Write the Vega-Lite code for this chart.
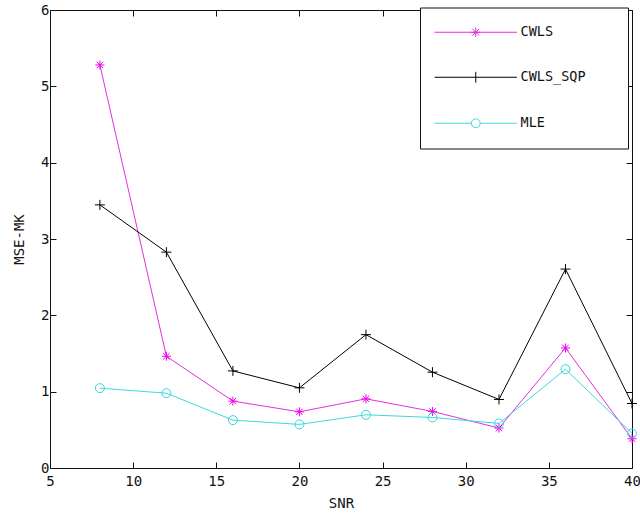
{
  "$schema": "https://vega.github.io/schema/vega-lite/v6.json",
  "width": 582,
  "height": 458,
  "autosize": {"type": "none"},
  "padding": {"left": 50, "top": 10, "right": 8, "bottom": 49},
  "background": "white",
  "config": {
    "view": {"stroke": null},
    "font": "DejaVu Sans Mono",
    "axis": {"grid": false, "domainColor": "#111", "tickColor": "#111", "labelColor": "#111", "titleColor": "#111", "labelFont": "DejaVu Sans Mono", "titleFont": "DejaVu Sans Mono", "labelFontSize": 14, "titleFontSize": 14, "titleFontWeight": "normal", "tickSize": -6, "domainWidth": 1, "tickWidth": 1}
  },
  "data": {"values": [
    {"snr": 8, "series": "CWLS", "mse": 5.28},
    {"snr": 12, "series": "CWLS", "mse": 1.464},
    {"snr": 16, "series": "CWLS", "mse": 0.876},
    {"snr": 20, "series": "CWLS", "mse": 0.736},
    {"snr": 24, "series": "CWLS", "mse": 0.906},
    {"snr": 28, "series": "CWLS", "mse": 0.741},
    {"snr": 32, "series": "CWLS", "mse": 0.523},
    {"snr": 36, "series": "CWLS", "mse": 1.573},
    {"snr": 40, "series": "CWLS", "mse": 0.383},
    {"snr": 8, "series": "CWLS_SQP", "mse": 3.447},
    {"snr": 12, "series": "CWLS_SQP", "mse": 2.828},
    {"snr": 16, "series": "CWLS_SQP", "mse": 1.272},
    {"snr": 20, "series": "CWLS_SQP", "mse": 1.05},
    {"snr": 24, "series": "CWLS_SQP", "mse": 1.747},
    {"snr": 28, "series": "CWLS_SQP", "mse": 1.255},
    {"snr": 32, "series": "CWLS_SQP", "mse": 0.898},
    {"snr": 36, "series": "CWLS_SQP", "mse": 2.606},
    {"snr": 40, "series": "CWLS_SQP", "mse": 0.845},
    {"snr": 8, "series": "MLE", "mse": 1.046},
    {"snr": 12, "series": "MLE", "mse": 0.98},
    {"snr": 16, "series": "MLE", "mse": 0.627},
    {"snr": 20, "series": "MLE", "mse": 0.571},
    {"snr": 24, "series": "MLE", "mse": 0.697},
    {"snr": 28, "series": "MLE", "mse": 0.662},
    {"snr": 32, "series": "MLE", "mse": 0.584},
    {"snr": 36, "series": "MLE", "mse": 1.294},
    {"snr": 40, "series": "MLE", "mse": 0.453}
  ]},
  "layer": [
    {
      "mark": {"type": "line", "strokeWidth": 1},
      "encoding": {
        "x": {"field": "snr", "type": "quantitative", "scale": {"domain": [5, 40], "nice": false, "zero": false},
              "axis": {"orient": "bottom", "values": [5, 10, 15, 20, 25, 30, 35, 40], "title": "SNR", "labelPadding": 12, "titleY": 35, "titleBaseline": "middle", "labelFlush": false}},
        "y": {"field": "mse", "type": "quantitative", "scale": {"domain": [0, 6], "nice": false},
              "axis": {"orient": "left", "values": [0, 1, 2, 3, 4, 5, 6], "title": "MSE-MK", "labelPadding": 7, "titleX": -31, "titleY": 229, "titleBaseline": "middle", "titleAngle": -90}},
        "color": {"field": "series", "type": "nominal",
                  "scale": {"domain": ["CWLS", "CWLS_SQP", "MLE"], "range": ["#e030e0", "#000000", "#40d8dc"]},
                  "legend": {
                    "title": null, "orient": "none", "legendX": 370, "legendY": -2.5,
                    "padding": 18, "strokeColor": "#111", "fillColor": "white",
                    "symbolSize": 16, "symbolOffset": 31, "symbolStrokeWidth": 1,
                    "labelOffset": 38, "labelFont": "DejaVu Sans Mono", "labelFontSize": 13.5, "labelColor": "#111",
                    "rowPadding": 30,
                    "labelExpr": "datum.label + '\u00a0\u00a0\u00a0\u200b'",
                    "encode": {"symbols": {"update": {
                      "fill": {"value": "transparent"},
                      "shape": {"signal": "datum.value == 'CWLS' ? 'M-20.6,0H20.6M-2.4,0H2.4M0,-2.4V2.4M-1.7,-1.7L1.7,1.7M-1.7,1.7L1.7,-1.7' : datum.value == 'CWLS_SQP' ? 'M-20.6,0H20.6M0,-2.7V2.7' : 'M-20.6,0H-2.2A2.2,2.2 0 1,1 2.2,0A2.2,2.2 0 1,1 -2.2,0M2.2,0H20.6'"}
                    }}}
                  }}
      }
    },
    {
      "transform": [{"filter": "datum.series == 'CWLS'"}],
      "mark": {"type": "point", "filled": false, "size": 100, "strokeWidth": 1, "opacity": 1, "color": "#f000f0",
               "shape": "M-0.9,0H0.9M0,-0.9V0.9M-0.64,-0.64L0.64,0.64M-0.64,0.64L0.64,-0.64"},
      "encoding": {
        "x": {"field": "snr", "type": "quantitative", "axis": {"orient": "top", "values": [5, 10, 15, 20, 25, 30, 35, 40], "labels": false, "title": null}},
        "y": {"field": "mse", "type": "quantitative", "axis": {"orient": "right", "values": [0, 1, 2, 3, 4, 5, 6], "labels": false, "title": null}}
      }
    },
    {
      "transform": [{"filter": "datum.series == 'CWLS_SQP'"}],
      "mark": {"type": "point", "filled": false, "size": 100, "strokeWidth": 1, "opacity": 1, "color": "#000000",
               "shape": "M-1,0H1M0,-1V1"},
      "encoding": {
        "x": {"field": "snr", "type": "quantitative", "axis": null},
        "y": {"field": "mse", "type": "quantitative", "axis": null}
      }
    },
    {
      "transform": [{"filter": "datum.series == 'MLE'"}],
      "mark": {"type": "point", "filled": false, "size": 100, "strokeWidth": 1, "opacity": 1, "color": "#30d8e0",
               "shape": "M-0.9,0A0.9,0.9 0 1,1 0.9,0A0.9,0.9 0 1,1 -0.9,0Z"},
      "encoding": {
        "x": {"field": "snr", "type": "quantitative", "axis": null},
        "y": {"field": "mse", "type": "quantitative", "axis": null}
      }
    }
  ],
  "resolve": {"axis": {"x": "independent", "y": "independent"}}
}
